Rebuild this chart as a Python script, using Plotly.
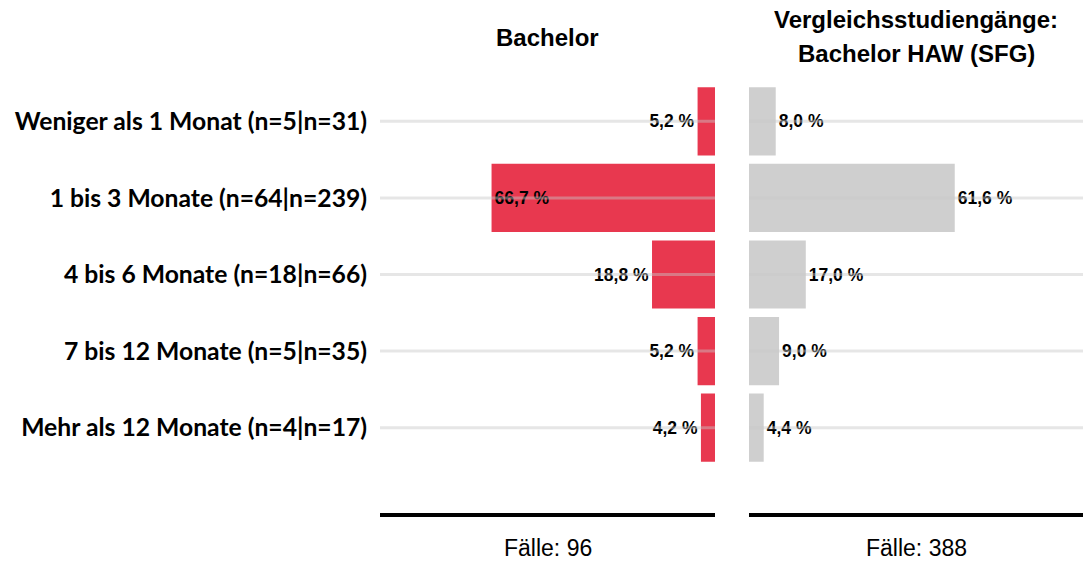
import plotly.graph_objects as go

categories = ["Weniger als 1 Monat (n=5|n=31)", "1 bis 3 Monate (n=64|n=239)",
              "4 bis 6 Monate (n=18|n=66)", "7 bis 12 Monate (n=5|n=35)",
              "Mehr als 12 Monate (n=4|n=17)"]
bachelor = [5.2, 66.7, 18.8, 5.2, 4.2]
vergleich = [8.0, 61.6, 17.0, 9.0, 4.4]
title_left = "Bachelor"
title_right_lines = ["Vergleichsstudiengänge:", "Bachelor HAW (SFG)"]
faelle_left = "Fälle: 96"
faelle_right = "Fälle: 388"

RED = "#E8384F"
GRAY = "#CFCFCF"
VFONT = dict(family="Liberation Sans, Arial", size=17.5, color="black")

def fmt(v):
    return f"{v:.1f}".replace(".", ",") + " %"

fig = go.Figure()
fig.add_trace(go.Bar(
    y=categories, x=bachelor, orientation="h", marker=dict(color=RED, line=dict(width=0)),
    text=[fmt(v) for v in bachelor],
    textposition=["inside" if v > 50 else "outside" for v in bachelor],
    insidetextanchor="end", constraintext="none",
    textfont=VFONT, insidetextfont=VFONT, outsidetextfont=VFONT,
    texttemplate="<b>%{text}</b>",
    cliponaxis=False, xaxis="x", yaxis="y", showlegend=False, hoverinfo="skip"))
fig.add_trace(go.Bar(
    y=categories, x=vergleich, orientation="h", marker=dict(color=GRAY, line=dict(width=0)),
    text=[fmt(v) for v in vergleich], textposition="outside", constraintext="none",
    textfont=VFONT, outsidetextfont=VFONT,
    texttemplate="<b>%{text}</b>",
    cliponaxis=False, xaxis="x2", yaxis="y2", showlegend=False, hoverinfo="skip"))

d1 = (715 - 380) / 703
d2 = (749 - 380) / 703
H = 383.0
def py(ypix):
    return (563 - 97 - ypix) / H

fig.update_layout(
    width=1091, height=563,
    margin=dict(l=380, r=8, t=83, b=97),
    plot_bgcolor="white", paper_bgcolor="white",
    bargap=0.11,
    xaxis=dict(domain=[0, d1], range=[100, 0], visible=False, fixedrange=True),
    xaxis2=dict(domain=[d2, 1], range=[0, 100], visible=False, fixedrange=True),
    yaxis=dict(anchor="x", categoryorder="array", categoryarray=categories,
               autorange="reversed", showgrid=False, zeroline=False, showline=False,
               ticks="outside", ticklen=7, tickcolor="rgba(0,0,0,0)",
               tickfont=dict(family="Lato", size=24.7, color="black", weight="bold")),
    yaxis2=dict(anchor="x2", matches="y", categoryorder="array", categoryarray=categories,
                autorange="reversed", showticklabels=False, showgrid=False,
                zeroline=False, showline=False),
)

shapes = []
for c in categories:
    for x0, x1 in ((0, d1), (d2, 1)):
        shapes.append(dict(type="line", xref="paper", yref="y", x0=x0, x1=x1, y0=c, y1=c,
                           line=dict(color="rgba(200,200,200,0.45)", width=3), layer="above"))
for x0, x1 in ((0, d1), (d2, 1)):
    shapes.append(dict(type="line", xref="paper", yref="paper", x0=x0, x1=x1,
                       y0=py(515), y1=py(515), line=dict(color="black", width=4)))
fig.update_layout(shapes=shapes)

TFONT = dict(family="Liberation Sans, Arial", size=24, color="black")
FFONT = dict(family="Liberation Sans, Arial", size=23, color="black")
annos = [
    dict(text=f"<b>{title_left}</b>", x=d1 / 2, y=py(37), font=TFONT),
    dict(text=f"<b>{title_right_lines[0]}</b>", x=(d2 + 1) / 2, y=py(20), font=TFONT),
    dict(text=f"<b>{title_right_lines[1]}</b>", x=(d2 + 1) / 2, y=py(54), font=TFONT),
    dict(text=faelle_left, x=d1 / 2, y=py(548), font=FFONT),
    dict(text=faelle_right, x=(d2 + 1) / 2, y=py(548), font=FFONT),
]
for a in annos:
    a.update(xref="paper", yref="paper", showarrow=False, xanchor="center", yanchor="middle")
fig.update_layout(annotations=annos)

fig.write_html("out.html", config={"displayModeBar": False},
               post_script="document.body.style.margin='0';")
